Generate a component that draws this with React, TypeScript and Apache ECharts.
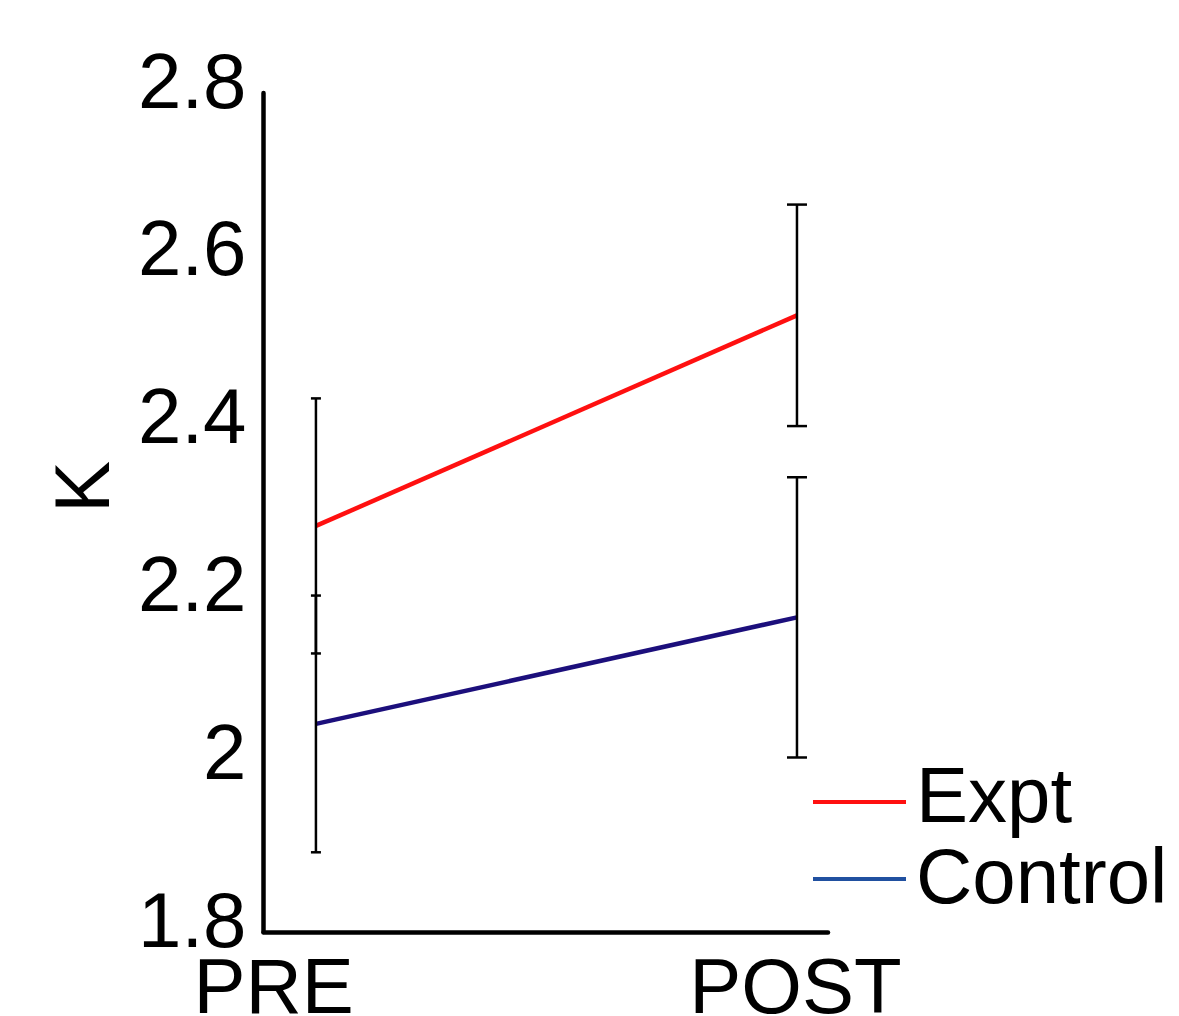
import React, { useEffect, useRef } from "react";
import * as echarts from "echarts";

// Data
const groups = ["PRE", "POST"];
const groupX = [1, 2];
const exptMean = [2.284, 2.535];
const exptErr = [0.152, 0.132];
const controlMean = [2.048, 2.175];
const controlErr = [0.153, 0.167];
const yTicks = [1.8, 2.0, 2.2, 2.4, 2.6, 2.8];
const xLabelPos = [0.912, 1.997];
const seriesNames = ["Expt", "Control"];

const FONT = "'Liberation Sans', Arial, Helvetica, sans-serif";

export default function App() {
  const ref = useRef<HTMLDivElement>(null);

  useEffect(() => {
    document.body.style.margin = "0";
    if (!ref.current) return;
    const chart = echarts.init(ref.current, null, { renderer: "svg" });

    const exptLine = groupX.map((x, i) => [x, exptMean[i]]);
    const controlLine = groupX.map((x, i) => [x, controlMean[i]]);
    const errData: number[][] = [];
    groupX.forEach((x, i) => {
      errData.push([x, exptMean[i] - exptErr[i], exptMean[i] + exptErr[i], i]);
      errData.push([x, controlMean[i] - controlErr[i], controlMean[i] + controlErr[i], i]);
    });

    const legendText = { fontFamily: FONT, fontSize: 78, color: "#000", padding: [0, 0, 0, 5] };

    const option: any = {
      animation: false,
      backgroundColor: "#ffffff",
      grid: {
        left: 263.5,
        right: 351,
        top: 93,
        bottom: 84,
        containLabel: false,
        outerBoundsMode: "none",
      },
      xAxis: {
        type: "value",
        min: 0.891,
        max: 2.0645,
        axisLine: { show: true, lineStyle: { color: "#000", width: 4.5 } },
        axisTick: { show: false },
        splitLine: { show: false },
        axisLabel: {
          customValues: xLabelPos,
          formatter: (v: number) => {
            let best = 0;
            xLabelPos.forEach((p, i) => {
              if (Math.abs(p - v) < Math.abs(xLabelPos[best] - v)) best = i;
            });
            return groups[best];
          },
          color: "#000",
          fontFamily: FONT,
          fontSize: 78,
          verticalAlign: "middle",
          margin: 54,
        },
      },
      yAxis: {
        type: "value",
        min: yTicks[0],
        max: yTicks[yTicks.length - 1],
        interval: 0.2,
        axisLine: { show: true, lineStyle: { color: "#000", width: 4.5 } },
        axisTick: { show: false },
        splitLine: { show: false },
        axisLabel: {
          formatter: (v: number) => String(Number(v.toFixed(1))),
          color: "#000",
          fontFamily: FONT,
          fontSize: 78,
          margin: 17,
          verticalAlign: "bottom",
          lineHeight: 25,
        },
      },
      legend: [
        {
          data: [{ name: seriesNames[0], itemStyle: { color: "#ff1010" } }],
          left: 813,
          top: 755.5,
          padding: 0,
          orient: "vertical",
          icon: "path://M0,0L0,0M0,15L93,15L93,19L0,19Z",
          itemWidth: 93,
          itemHeight: 19,
          selectedMode: false,
          textStyle: legendText,
        },
        {
          data: [{ name: seriesNames[1], itemStyle: { color: "#2050a0" } }],
          left: 813,
          top: 836.5,
          padding: 0,
          orient: "vertical",
          icon: "path://M0,0L0,0M0,7L93,7L93,11L0,11Z",
          itemWidth: 93,
          itemHeight: 11,
          selectedMode: false,
          textStyle: legendText,
        },
      ],
      graphic: [
        {
          type: "text",
          x: 82,
          y: 487,
          rotation: Math.PI / 2,
          style: {
            text: "K",
            font: `78px ${FONT}`,
            fill: "#000",
            align: "center",
            verticalAlign: "middle",
          },
        },
      ],
      series: [
        {
          name: seriesNames[0],
          type: "line",
          data: exptLine,
          symbol: "none",
          lineStyle: { color: "#ff1010", width: 4.5 },
          itemStyle: { color: "#ff1010" },
        },
        {
          name: seriesNames[1],
          type: "line",
          data: controlLine,
          symbol: "none",
          lineStyle: { color: "#1c0f7c", width: 4.5 },
          itemStyle: { color: "#1c0f7c" },
        },
        {
          type: "custom",
          data: errData,
          renderItem: (params: any, api: any) => {
            const x = api.value(0);
            const lo = api.coord([x, api.value(1)]);
            const hi = api.coord([x, api.value(2)]);
            const half = api.value(3) === 0 ? 5 : 10;
            const style = { stroke: "#000", lineWidth: 2.5 };
            return {
              type: "group",
              children: [
                { type: "line", shape: { x1: lo[0], y1: lo[1], x2: hi[0], y2: hi[1] }, style },
                { type: "line", shape: { x1: lo[0] - half, y1: lo[1], x2: lo[0] + half, y2: lo[1] }, style },
                { type: "line", shape: { x1: hi[0] - half, y1: hi[1], x2: hi[0] + half, y2: hi[1] }, style },
              ],
            };
          },
          z: 5,
        },
      ],
    };

    chart.setOption(option);
    return () => chart.dispose();
  }, []);

  return <div ref={ref} style={{ width: 1179, height: 1016 }} />;
}
